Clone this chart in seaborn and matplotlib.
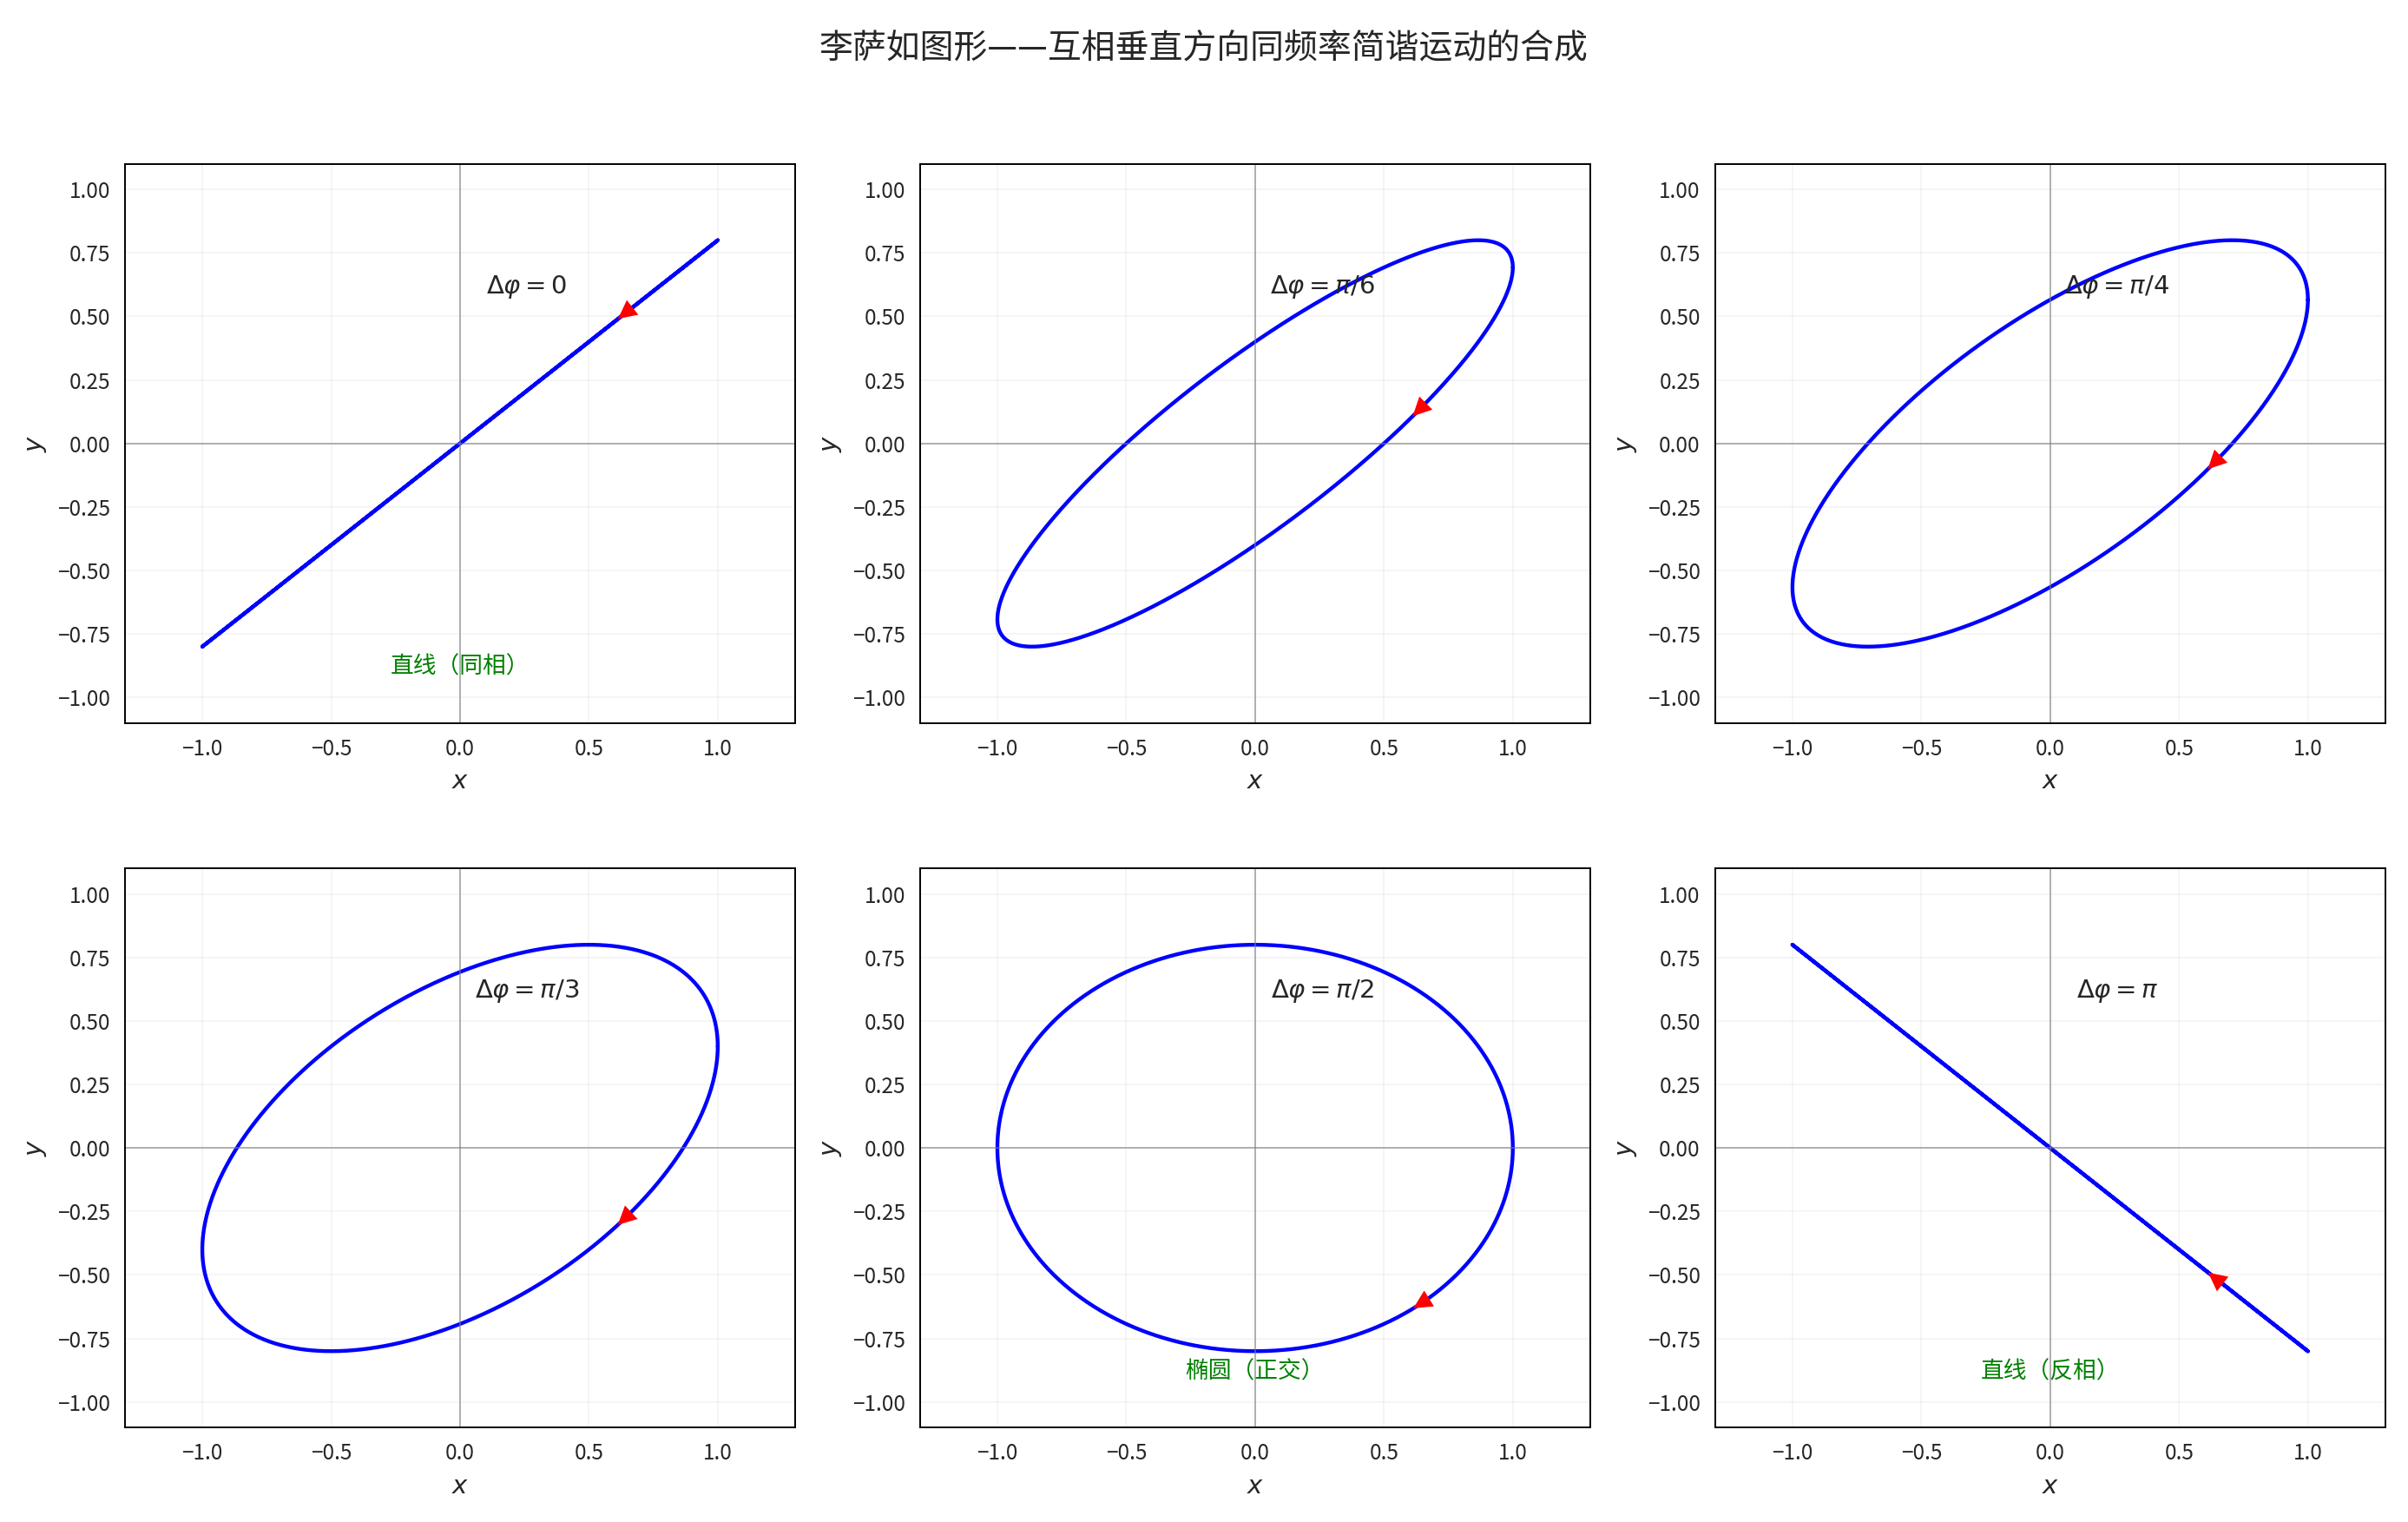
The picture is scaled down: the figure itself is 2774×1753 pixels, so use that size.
import numpy as np
import pandas as pd
import matplotlib
matplotlib.use("Agg")
import matplotlib.pyplot as plt
import seaborn as sns

# amplitudes of the two perpendicular oscillations
amp_x = 1.0
amp_y = 0.8
# phase differences and labels for each panel
phases = [0, np.pi / 6, np.pi / 4, np.pi / 3, np.pi / 2, np.pi]
phase_labels = [r"$\Delta\varphi=0$", r"$\Delta\varphi=\pi/6$", r"$\Delta\varphi=\pi/4$",
                r"$\Delta\varphi=\pi/3$", r"$\Delta\varphi=\pi/2$", r"$\Delta\varphi=\pi$"]
notes = ["直线（同相）", "", "", "", "椭圆（正交）", "直线（反相）"]

sns.set_style("white")
plt.rcParams['font.family'] = ['Noto Sans CJK SC', 'DejaVu Sans']
plt.rcParams['axes.unicode_minus'] = True

fig, axes = plt.subplots(2, 3, figsize=(2774 / 175, 1753 / 175), dpi=175)
t = np.linspace(0, 2 * np.pi, 1000)
t_arrow = np.arccos(0.6)

for ax, dphi, lab, note in zip(axes.flat, phases, phase_labels, notes):
    df = pd.DataFrame({"x": amp_x * np.cos(t), "y": amp_y * np.cos(t + dphi)})
    sns.lineplot(data=df, x="x", y="y", sort=False, estimator=None, color="blue", lw=1.8, ax=ax)
    # direction arrow
    x0, y0 = amp_x * np.cos(t_arrow), amp_y * np.cos(t_arrow + dphi)
    x1, y1 = amp_x * np.cos(t_arrow - 0.05), amp_y * np.cos(t_arrow - 0.05 + dphi)
    ax.annotate("", xy=(x0, y0), xytext=(x1, y1),
                arrowprops=dict(arrowstyle="-|>", color="red", mutation_scale=22, lw=0))
    ax.axhline(0, color="gray", lw=0.8, alpha=0.6)
    ax.axvline(0, color="gray", lw=0.8, alpha=0.6)
    ax.grid(True, alpha=0.2)
    ax.set_xlim(-1.3, 1.3)
    ax.set_ylim(-1.1, 1.1)
    ax.set_xticks([-1.0, -0.5, 0.0, 0.5, 1.0])
    ax.set_yticks([-1.0, -0.75, -0.5, -0.25, 0.0, 0.25, 0.5, 0.75, 1.0])
    ax.set_xlabel("$x$", fontsize=12)
    ax.set_ylabel("$y$", fontsize=12)
    ax.text(0.6, 0.78, lab, transform=ax.transAxes, ha="center", va="center", fontsize=12)
    if note:
        ax.text(0.5, 0.1, note, transform=ax.transAxes, ha="center", va="center",
                fontsize=11, color="green")
    for s in ax.spines.values():
        s.set_color("black")

fig.suptitle("李萨如图形——互相垂直方向同频率简谐运动的合成", fontsize=16)
plt.tight_layout(rect=[0, 0, 1, 0.945], h_pad=3.5)
plt.savefig("out.png", dpi=175)
